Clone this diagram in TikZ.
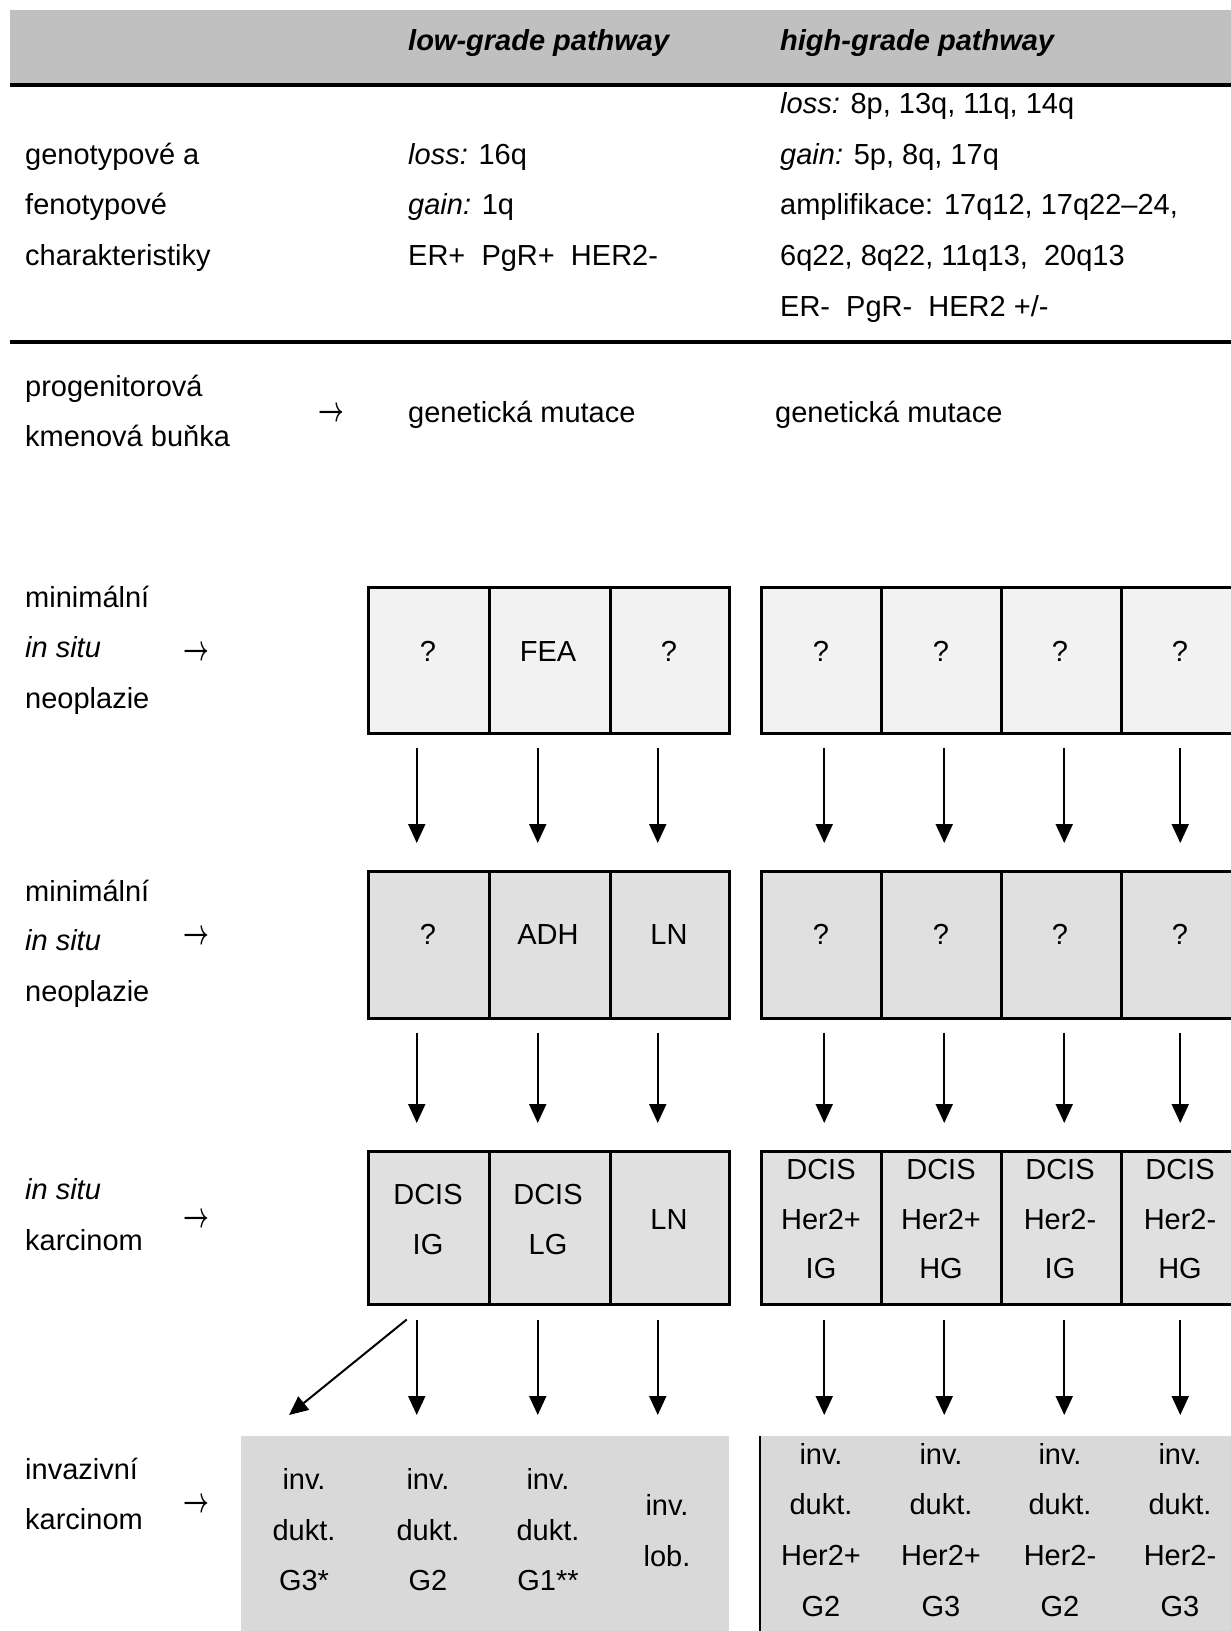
\documentclass[tikz,border=0pt]{standalone}
\usepackage{fontspec}
\setmainfont{Liberation Sans}
\usetikzlibrary{arrows.meta}
\definecolor{hdrgray}{HTML}{C0C0C0}
\definecolor{rowa}{HTML}{F2F2F2}
\definecolor{rowb}{HTML}{E0E0E0}
\definecolor{rowd}{HTML}{D9D9D9}
\newcommand{\rarrglyph}{\scalebox{0.9}[1.45]{\boldmath$\rightarrow$}}
\begin{document}
\begin{tikzpicture}[x=1pt,y=-1pt,
  txt/.style={anchor=base west, inner sep=0pt, font=\fontsize{29}{35}\selectfont},
  ctxt/.style={anchor=base, inner sep=0pt, font=\fontsize{29}{35}\selectfont},
  hdr/.style={anchor=base west, inner sep=0pt, font=\fontsize{29}{35}\selectfont\bfseries\itshape},
  arrtxt/.style={anchor=base west, inner sep=0pt, font=\fontsize{29}{35}\selectfont},
  cell/.style={draw=black, line width=2.5pt, anchor=north west, inner sep=0pt, minimum height=#1},
  arr/.style={-{Triangle[length=19pt,width=17pt]}, line width=2pt},
  rule/.style={line width=4.5pt}]
\useasboundingbox (0,0) rectangle (1231,1631);
% header
\fill[hdrgray] (10,10) rectangle (1231,85);
\draw[rule] (10,85) -- (1231,85);
\draw[rule] (10,342) -- (1231,342);
\node[hdr] (hlow) at (408,50) {low-grade pathway};
\node[hdr] (hhigh) at (780,50) {high-grade pathway};
% genotype block
\node[txt] (g1) at (25,164) {genotypové a};
\node[txt] (g2) at (25,214) {fenotypové};
\node[txt] (g3) at (25,265) {charakteristiky};
\node[txt] (l1) at (408,164) {{\itshape loss:} 16q};
\node[txt] (l2) at (408,214) {{\itshape gain:} 1q};
\node[txt] (l3) at (408,265) {ER+\ \ PgR+\ \ HER2-};
\node[txt] (h1) at (780,113) {{\itshape loss:} 8p, 13q, 11q, 14q};
\node[txt] (h2) at (780,164) {{\itshape gain:} 5p, 8q, 17q};
\node[txt] (h3) at (780,214) {amplifikace: 17q12, 17q22–24,};
\node[txt] (h4) at (780,265) {6q22, 8q22, 11q13,\ \ 20q13};
\node[txt] (h5) at (780,316) {ER-\ \ PgR-\ \ HER2 +/-};
% progenitor
\node[txt] (p1) at (25,396) {progenitorová};
\node[txt] (p2) at (25,446) {kmenová buňka};
\node[arrtxt] (pa) at (318,421) {\rarrglyph};
\node[txt] (pm1) at (408,422) {genetická mutace};
\node[txt] (pm2) at (775,422) {genetická mutace};
% row labels
\node[txt] (r1a) at (25,607) {minimální};
\node[txt] (r1b) at (25,657) {\textit{in situ}};
\node[txt] (r1c) at (25,708) {neoplazie};
\node[arrtxt] (r1arr) at (183,660) {\rarrglyph};
\node[txt] (r2a) at (25,901) {minimální};
\node[txt] (r2b) at (25,950) {\textit{in situ}};
\node[txt] (r2c) at (25,1001) {neoplazie};
\node[arrtxt] (r2arr) at (183,944) {\rarrglyph};
\node[txt] (r3a) at (25,1199) {\textit{in situ}};
\node[txt] (r3b) at (25,1250) {karcinom};
\node[arrtxt] (r3arr) at (183,1227) {\rarrglyph};
\node[txt] (r4a) at (25,1479) {invazivní};
\node[txt] (r4b) at (25,1529) {karcinom};
\node[arrtxt] (r4arr) at (183,1512) {\rarrglyph};
% row 1 cells
\node[cell=146pt, fill=rowa, minimum width=121pt] (c11) at (367,586) {};
\node[cell=146pt, fill=rowa, minimum width=121pt] (c12) at (488,586) {};
\node[cell=146pt, fill=rowa, minimum width=119pt] (c13) at (609,586) {};
\node[cell=146pt, fill=rowa, minimum width=120pt] (c14) at (760,586) {};
\node[cell=146pt, fill=rowa, minimum width=120pt] (c15) at (880,586) {};
\node[cell=146pt, fill=rowa, minimum width=120pt] (c16) at (1000,586) {};
\node[cell=146pt, fill=rowa, minimum width=130pt] (c17) at (1120,586) {};
\node[ctxt] (t11) at (428,661) {?};
\node[ctxt] (t12) at (548,661) {FEA};
\node[ctxt] (t13) at (669,661) {?};
\node[ctxt] (t14) at (821,661) {?};
\node[ctxt] (t15) at (941,661) {?};
\node[ctxt] (t16) at (1060,661) {?};
\node[ctxt] (t17) at (1180,661) {?};
% row 2 cells
\node[cell=147pt, fill=rowb, minimum width=121pt] (c21) at (367,870) {};
\node[cell=147pt, fill=rowb, minimum width=121pt] (c22) at (488,870) {};
\node[cell=147pt, fill=rowb, minimum width=119pt] (c23) at (609,870) {};
\node[cell=147pt, fill=rowb, minimum width=120pt] (c24) at (760,870) {};
\node[cell=147pt, fill=rowb, minimum width=120pt] (c25) at (880,870) {};
\node[cell=147pt, fill=rowb, minimum width=120pt] (c26) at (1000,870) {};
\node[cell=147pt, fill=rowb, minimum width=130pt] (c27) at (1120,870) {};
\node[ctxt] (t21) at (428,944) {?};
\node[ctxt] (t22) at (548,944) {ADH};
\node[ctxt] (t23) at (669,944) {LN};
\node[ctxt] (t24) at (821,944) {?};
\node[ctxt] (t25) at (941,944) {?};
\node[ctxt] (t26) at (1060,944) {?};
\node[ctxt] (t27) at (1180,944) {?};
% row 3 cells
\node[cell=153pt, fill=rowb, minimum width=121pt] (c31) at (367,1150) {};
\node[cell=153pt, fill=rowb, minimum width=121pt] (c32) at (488,1150) {};
\node[cell=153pt, fill=rowb, minimum width=119pt] (c33) at (609,1150) {};
\node[cell=153pt, fill=rowb, minimum width=120pt] (c34) at (760,1150) {};
\node[cell=153pt, fill=rowb, minimum width=120pt] (c35) at (880,1150) {};
\node[cell=153pt, fill=rowb, minimum width=120pt] (c36) at (1000,1150) {};
\node[cell=153pt, fill=rowb, minimum width=130pt] (c37) at (1120,1150) {};
\node[ctxt] (t31a) at (428,1204) {DCIS};
\node[ctxt] (t31b) at (428,1254) {IG};
\node[ctxt] (t32a) at (548,1204) {DCIS};
\node[ctxt] (t32b) at (548,1254) {LG};
\node[ctxt] (t33) at (669,1229) {LN};
\foreach \x/\a/\b [count=\i] in {821/Her2+/IG, 941/Her2+/HG, 1060/Her2-/IG, 1180/Her2-/HG}{
  \node[ctxt] (t3h\i a) at (\x,1179) {DCIS};
  \node[ctxt] (t3h\i b) at (\x,1229) {\a};
  \node[ctxt] (t3h\i c) at (\x,1278) {\b};
}
% row 4
\node[fill=rowd, anchor=north west, inner sep=0pt, minimum width=488pt, minimum height=200pt] (c4l) at (241,1436) {};
\node[fill=rowd, anchor=north west, inner sep=0pt, minimum width=475pt, minimum height=200pt] (c4r) at (760,1436) {};
\draw[line width=2.5pt] (c4r.north west) -- (c4r.south west);
\foreach \x/\c [count=\i] in {304/G3*, 428/G2, 548/G1**}{
  \node[ctxt] (t4l\i a) at (\x,1489) {inv.};
  \node[ctxt] (t4l\i b) at (\x,1540) {dukt.};
  \node[ctxt] (t4l\i c) at (\x,1590) {\c};
}
\node[ctxt] (t4l4a) at (667,1515) {inv.};
\node[ctxt] (t4l4b) at (667,1566) {lob.};
\foreach \x/\a/\b [count=\i] in {821/Her2+/G2, 941/Her2+/G3, 1060/Her2-/G2, 1180/Her2-/G3}{
  \node[ctxt] (t4h\i a) at (\x,1464) {inv.};
  \node[ctxt] (t4h\i b) at (\x,1514) {dukt.};
  \node[ctxt] (t4h\i c) at (\x,1565) {\a};
  \node[ctxt] (t4h\i d) at (\x,1616) {\b};
}
% arrows
\foreach \r/\n in {1/2, 2/3}{
  \foreach \c in {1,2,3}{
    \draw[arr] ([xshift=-12pt,yshift=-13pt]c\r\c.south) -- ([xshift=-12pt,yshift=27pt]c\n\c.north);
  }
  \foreach \c in {4,5,6}{
    \draw[arr] ([xshift=3pt,yshift=-13pt]c\r\c.south) -- ([xshift=3pt,yshift=27pt]c\n\c.north);
  }
  \draw[arr] ([xshift=-6pt,yshift=-13pt]c\r7.south) -- ([xshift=-6pt,yshift=27pt]c\n7.north);
}
\draw[arr] ([xshift=-12pt,yshift=-14pt]c31.south) -- ([xshift=-12pt,yshift=21pt]c4l.north -| c31.south);
\draw[arr] ([xshift=-12pt,yshift=-14pt]c32.south) -- ([xshift=-12pt,yshift=21pt]c4l.north -| c32.south);
\draw[arr] ([xshift=-12pt,yshift=-14pt]c33.south) -- ([xshift=-12pt,yshift=21pt]c4l.north -| c33.south);
\draw[arr] ([xshift=-22pt,yshift=-14pt]c31.south) -- ([xshift=48pt,yshift=21pt]c4l.north west);
\foreach \c in {4,5,6}{
  \draw[arr] ([xshift=3pt,yshift=-14pt]c3\c.south) -- ([xshift=3pt,yshift=21pt]c4r.north -| c3\c.south);
}
\draw[arr] ([xshift=-6pt,yshift=-14pt]c37.south) -- ([xshift=-6pt,yshift=21pt]c4r.north -| c37.south);
\end{tikzpicture}
\end{document}
